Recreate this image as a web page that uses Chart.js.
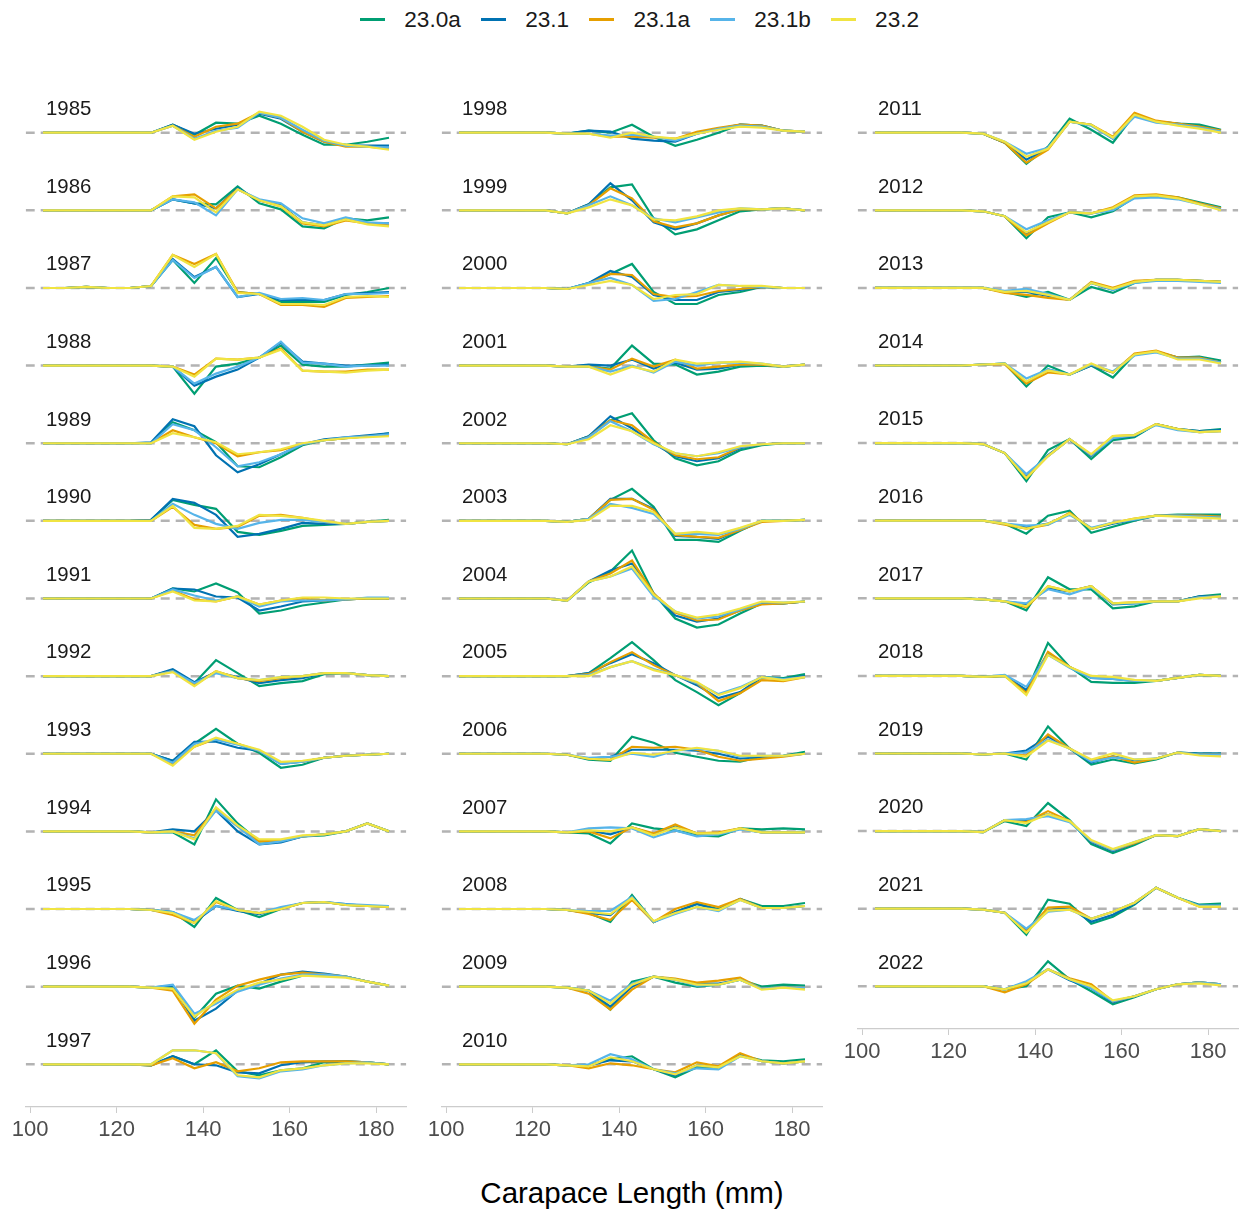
<!DOCTYPE html>
<html>
<head>
<meta charset="utf-8">
<script src="https://cdn.jsdelivr.net/npm/chart.js@4.4.0/dist/chart.umd.min.js"></script>
<style>
  body { margin: 0; width: 1241px; height: 1213px; position: relative; overflow: hidden; background: #fff;
         font-family: "Liberation Sans", Arial, Helvetica, sans-serif; }
  canvas { position: absolute; }
  #legend { position: absolute; left: 360px; top: 8.5px; height: 22.6px; display: flex; align-items: center;
            font-size: 22.6px; line-height: 22.6px; color: #1a1a1a; white-space: nowrap; }
  #legend .key { display: inline-block; width: 25px; height: 2.8px; margin-right: 19.3px; }
  #legend .lab { margin-right: 20px; }
  #xtitle { position: absolute; left: 332px; width: 600px; top: 1178px; text-align: center;
            font-size: 29.5px; line-height: 29.5px; color: #000; }
</style>
</head>
<body>
<div id="legend"></div>
<canvas id="col1" width="420" height="1087" style="left:0px;top:60px"></canvas>
<canvas id="col2" width="420" height="1087" style="left:416px;top:60px"></canvas>
<canvas id="col3" width="409" height="1009" style="left:832px;top:60px"></canvas>
<div id="xtitle">Carapace Length (mm)</div>
<script>
// panel years, in facet order (three columns)
const years = [1985,1986,1987,1988,1989,1990,1991,1992,1993,1994,1995,1996,1997,
               1998,1999,2000,2001,2002,2003,2004,2005,2006,2007,2008,2009,2010,
               2011,2012,2013,2014,2015,2016,2017,2018,2019,2020,2021,2022];

// carapace length bins (mm)
const lengths = [103,108,113,118,123,128,133,138,143,148,153,158,163,168,173,178,183];
const xTicks = [100,120,140,160,180];

const seriesNames = ['23.0a','23.1','23.1a','23.1b','23.2'];
const seriesColors = ['#009E73','#0072B2','#E69F00','#56B4E9','#F0E442'];

// residuals per year (one row per year, same order as years)
const s230a = [
  [0,0,0,0,0,0,8,-2,10,9,17,9,-2,-12,-12,-9,-5],
  [0,0,0,0,0,0,11,7,6,24,7,1,-16,-18,-8,-10,-7],
  [0,0,1,0,0,2,28,5,30,-4,-6,-14,-14,-14,-7,-4,0],
  [0,0,0,0,0,0,-1,-28,-1,2,8,20,1,-1,-1,1,3],
  [0,0,0,0,0,0,21,13,1,-23,-24,-14,-2,3,5,7,10],
  [0,0,0,0,0,1,21,16,12,-11,-14,-10,-5,-4,-3,-1,1],
  [0,0,0,0,0,0,10,7,15,6,-15,-12,-7,-4,-1,0,0],
  [0,0,0,0,0,0,6,-7,16,3,-10,-7,-5,2,3,1,0],
  [0,0,0,0,0,0,-7,10,25,10,1,-14,-11,-4,-2,-1,0],
  [0,0,0,0,0,-1,-1,-13,32,8,-10,-10,-5,-4,0,8,0],
  [0,0,0,0,0,-1,-3,-18,11,-1,-8,0,6,7,4,3,2],
  [0,0,0,0,0,-1,-1,-31,-7,1,-2,5,11,12,10,5,1],
  [0,0,0,0,0,-1,8,0,14,-7,-11,-6,-4,2,3,2,0],
  [0,0,0,0,0,-1,2,0,8,-4,-13,-7,0,8,7,2,1],
  [0,0,0,0,0,-3,6,23,26,-8,-24,-19,-10,-1,1,2,0],
  [0,0,0,0,0,-1,5,14,24,-4,-16,-16,-7,-4,1,0,0],
  [0,0,0,0,0,-1,-1,-3,20,2,1,-9,-6,-1,0,-1,1],
  [0,0,0,0,0,-1,7,23,30,3,-15,-22,-18,-7,-2,0,0],
  [0,0,0,0,0,-1,2,21,32,14,-19,-19,-21,-10,0,0,1],
  [0,0,0,0,0,-2,16,27,48,5,-20,-29,-26,-15,-5,-5,-3],
  [0,0,0,0,0,0,3,18,34,16,-4,-16,-29,-17,-1,-2,2],
  [0,0,0,0,0,-1,-6,-7,17,11,1,-3,-7,-8,-3,-2,2],
  [0,0,0,0,0,-1,-2,-12,8,3,1,-4,-5,3,2,3,2],
  [0,0,0,0,0,-1,-4,-13,14,-13,-3,5,0,10,3,3,6],
  [0,0,0,0,0,-1,-4,-23,5,10,4,0,2,7,0,2,1],
  [0,0,0,0,0,-1,-1,5,8,-5,-13,-3,-4,9,4,3,5],
  [0,0,0,0,0,-1,-10,-31,-14,14,3,-10,18,11,9,8,3],
  [0,0,0,0,0,-1,-6,-28,-7,-2,-7,-1,13,15,13,8,3],
  [0,0,0,0,0,0,-4,-9,-4,-12,1,-5,5,8,8,7,6],
  [0,0,0,0,0,1,2,-21,0,-9,0,-12,11,14,8,9,5],
  [0,0,0,0,0,-1,-10,-38,-7,4,-16,3,6,19,14,12,14],
  [0,0,0,0,0,0,-3,-13,5,10,-12,-6,0,5,6,6,6],
  [0,0,0,0,0,-1,-3,-12,21,9,9,-10,-8,-3,-3,2,4],
  [0,0,0,0,0,-1,0,-16,33,9,-6,-7,-7,-5,-2,1,0],
  [0,0,0,0,0,-1,0,-6,27,5,-11,-6,-10,-6,1,0,0],
  [0,0,0,0,0,-1,10,5,28,11,-13,-22,-14,-4,-5,2,0],
  [0,0,0,0,0,-1,-4,-26,9,5,-15,-8,4,21,11,4,5],
  [0,0,0,0,0,0,-3,0,25,7,-5,-18,-11,-3,2,4,2]
];
const s231 = [
  [0,0,0,0,0,0,8,-1,4,8,19,14,1,-9,-13,-13,-13],
  [0,0,0,0,0,0,11,7,2,22,10,5,-12,-15,-8,-13,-13],
  [0,0,1,0,0,2,29,11,21,-9,-6,-12,-12,-12,-6,-5,-4],
  [0,0,0,0,0,0,-1,-20,-11,-4,8,23,4,2,0,0,1],
  [0,0,0,0,0,1,24,17,-12,-29,-21,-11,-1,4,6,8,10],
  [0,0,0,0,0,1,22,18,6,-16,-13,-8,-2,-3,-3,-1,0],
  [0,0,0,0,0,0,10,9,2,1,-12,-8,-3,-2,-1,0,0],
  [0,0,0,0,0,0,7,-6,4,-1,-7,-4,-2,3,3,1,0],
  [0,0,0,0,0,0,-7,12,12,6,3,-10,-8,-4,-2,-1,0],
  [0,0,0,0,0,-1,2,0,21,0,-13,-11,-5,-3,0,8,0],
  [0,0,0,0,0,-1,-3,-13,3,-2,-5,1,6,7,5,3,3],
  [0,0,0,0,0,-1,1,-34,-22,-4,3,12,15,13,10,5,1],
  [0,0,0,0,0,-1,8,0,-1,-8,-9,-1,2,3,3,2,0],
  [0,0,0,0,0,-1,2,1,-6,-8,-9,-1,4,8,7,2,1],
  [0,0,0,0,0,-3,6,27,10,-12,-19,-13,-5,1,1,2,0],
  [0,0,0,0,0,-1,5,17,11,-7,-12,-12,-4,-2,1,0,0],
  [0,0,0,0,0,-1,1,0,6,-3,3,-4,-3,1,1,-1,1],
  [0,0,0,0,0,-1,7,27,15,0,-13,-18,-15,-5,-1,0,0],
  [0,0,0,0,0,-1,2,22,22,12,-15,-16,-18,-9,0,0,1],
  [0,0,0,0,0,-2,17,28,35,5,-17,-23,-20,-12,-5,-5,-3],
  [0,0,0,0,0,0,3,13,22,13,1,-9,-22,-16,-1,-3,0],
  [0,0,0,0,0,-1,-5,-3,4,4,4,3,0,-5,-3,-2,0],
  [0,0,0,0,0,-1,1,-3,4,-3,5,-2,-2,3,-1,-1,-1],
  [0,0,0,0,0,-1,-4,-6,12,-13,-3,5,-1,10,1,1,3],
  [0,0,0,0,0,-1,-4,-20,0,10,7,3,3,7,-2,-1,-1],
  [0,0,0,0,0,-1,-1,4,3,-5,-11,-1,-3,9,3,1,3],
  [0,0,0,0,0,-1,-10,-27,-15,11,8,-6,17,11,9,6,2],
  [0,0,0,0,0,-1,-6,-23,-11,-2,-3,1,14,15,12,7,2],
  [0,0,0,0,0,0,-4,-4,-8,-12,5,-2,6,8,8,7,6],
  [0,0,0,0,0,1,2,-17,-4,-9,0,-7,11,14,8,8,3],
  [0,0,0,0,0,-1,-10,-34,-12,4,-13,5,7,19,14,12,13],
  [0,0,0,0,0,0,-3,-7,-3,7,-8,-3,1,5,5,5,4],
  [0,0,0,0,0,-1,-3,-6,10,7,12,-6,-5,-3,-3,2,2],
  [0,0,0,0,0,-1,0,-14,23,9,-2,-3,-5,-5,-2,1,0],
  [0,0,0,0,0,-1,0,3,17,5,-9,-3,-7,-5,1,0,0],
  [0,0,0,0,0,-1,11,11,17,10,-11,-20,-12,-4,-5,2,0],
  [0,0,0,0,0,-1,-4,-22,-1,1,-13,-6,5,21,11,3,3],
  [0,0,0,0,0,0,-3,4,17,6,-2,-16,-10,-3,2,4,2]
];
const s231a = [
  [0,0,0,0,0,0,7,-4,6,9,20,15,1,-9,-14,-14,-16],
  [0,0,0,0,0,0,14,16,2,21,10,4,-13,-16,-10,-13,-15],
  [0,0,1,0,0,2,33,24,34,-4,-6,-17,-17,-19,-10,-9,-8],
  [0,0,0,0,0,0,-1,-9,7,6,8,17,-5,-6,-6,-4,-4],
  [0,0,0,0,0,0,13,6,0,-13,-9,-7,-1,3,5,7,8],
  [0,0,0,0,0,0,14,-4,-8,-6,5,6,3,-1,-3,-1,0],
  [0,0,0,0,0,0,8,-1,-3,2,-6,-2,0,-2,-1,0,0],
  [0,0,0,0,0,0,5,-9,5,-2,-5,-2,0,3,3,1,0],
  [0,0,0,0,0,0,-10,7,15,10,3,-9,-8,-4,-2,-1,0],
  [0,0,0,0,0,-1,0,-4,23,5,-10,-9,-5,-3,0,8,0],
  [0,0,0,0,0,-1,-6,-14,7,-1,-4,0,6,7,4,3,2],
  [0,0,0,0,0,-1,-4,-37,-13,1,7,12,14,12,10,5,1],
  [0,0,0,0,0,-1,6,-4,2,-7,-4,2,3,3,3,2,0],
  [0,0,0,0,0,-1,-1,-4,-4,-5,-6,1,5,8,7,2,1],
  [0,0,0,0,0,-3,5,22,12,-11,-17,-13,-5,1,1,2,0],
  [0,0,0,0,0,-1,4,14,13,-6,-9,-8,-3,-1,1,0,0],
  [0,0,0,0,0,-1,-1,-4,7,-1,6,-3,-1,1,1,-1,1],
  [0,0,0,0,0,-1,6,23,18,1,-12,-16,-14,-4,-1,0,0],
  [0,0,0,0,0,-1,2,21,22,11,-14,-16,-17,-9,-1,0,1],
  [0,0,0,0,0,-2,17,25,38,5,-14,-22,-21,-12,-6,-5,-3],
  [0,0,0,0,0,0,2,14,24,11,1,-7,-25,-17,-4,-5,-1],
  [0,0,0,0,0,-1,-5,-6,7,6,7,4,-3,-7,-5,-3,0],
  [0,0,0,0,0,-1,0,-7,4,-2,7,-2,-1,3,-1,-1,-1],
  [0,0,0,0,0,-1,-5,-11,9,-13,0,7,2,10,1,1,3],
  [0,0,0,0,0,-1,-7,-23,-3,10,8,4,6,9,-2,-1,-1],
  [0,0,0,0,0,-1,-4,1,-1,-5,-8,2,-2,11,3,1,3],
  [0,0,0,0,0,-1,-10,-30,-17,11,8,-4,20,12,9,6,2],
  [0,0,0,0,0,-1,-6,-25,-13,-2,-3,3,15,16,13,7,2],
  [0,0,0,0,0,0,-5,-7,-10,-12,6,0,7,8,8,7,6],
  [0,0,0,0,0,1,1,-18,-7,-9,1,-7,12,15,8,8,3],
  [0,0,0,0,0,-1,-10,-35,-13,4,-12,7,8,19,14,11,12],
  [0,0,0,0,0,0,-4,-8,-4,8,-8,-2,2,5,5,5,4],
  [0,0,0,0,0,-1,-3,-9,12,7,12,-5,-4,-3,-3,1,2],
  [0,0,0,0,0,-1,0,-17,24,9,-1,-2,-5,-5,-2,1,0],
  [0,0,0,0,0,-1,0,-2,19,5,-7,-3,-9,-5,1,-1,-1],
  [0,0,0,0,0,-1,11,9,20,10,-10,-19,-12,-4,-5,2,0],
  [0,0,0,0,0,-1,-4,-23,1,2,-10,-3,6,21,11,2,2],
  [0,0,0,0,0,0,-6,2,17,8,2,-15,-10,-3,2,4,2]
];
const s231b = [
  [0,0,0,0,0,0,7,-6,2,5,20,15,3,-8,-13,-14,-15],
  [0,0,0,0,0,0,11,8,-5,21,11,7,-8,-13,-7,-12,-13],
  [0,0,1,0,0,2,28,10,21,-9,-5,-11,-10,-12,-6,-6,-5],
  [0,0,0,0,0,0,-1,-18,-8,-1,8,24,3,2,-1,0,0],
  [0,0,0,0,0,0,19,13,-4,-23,-19,-11,-1,3,6,7,9],
  [0,0,0,0,0,0,17,6,-3,-8,-2,1,1,-1,-3,-1,0],
  [0,0,0,0,0,0,9,3,-2,2,-8,-3,-2,-2,-1,1,1],
  [0,0,0,0,0,0,5,-7,3,-2,-4,-1,0,3,3,1,0],
  [0,0,0,0,0,0,-9,10,14,9,3,-10,-8,-4,-2,-1,0],
  [0,0,0,0,0,-1,0,-7,21,5,-13,-10,-5,-3,0,8,0],
  [0,0,0,0,0,-1,-3,-11,3,-1,-4,2,6,7,5,4,3],
  [0,0,0,0,0,-1,2,-27,-17,-5,2,8,12,12,10,5,1],
  [0,0,0,0,0,0,14,14,11,-12,-14,-7,-5,-1,1,2,0],
  [0,0,0,0,0,-1,-1,-3,-2,-4,-8,-1,4,7,6,2,1],
  [0,0,0,0,0,-3,5,14,5,-8,-12,-7,-2,2,1,2,0],
  [0,0,0,0,0,-1,5,10,3,-13,-11,-4,3,2,1,0,0],
  [0,0,0,0,0,-1,-1,-6,0,-7,4,0,3,3,2,-1,1],
  [0,0,0,0,0,-1,6,22,12,-1,-10,-13,-10,-4,-1,0,0],
  [0,0,0,0,0,-1,2,17,13,7,-13,-13,-14,-8,0,0,1],
  [0,0,0,0,0,-2,17,22,30,2,-13,-20,-18,-11,-4,-4,-3],
  [0,0,0,0,0,0,1,9,15,7,1,-7,-18,-11,-1,-3,-1],
  [0,0,0,0,0,-1,-4,-3,0,-3,3,5,3,-3,-2,-2,0],
  [0,0,0,0,0,-1,3,4,3,-6,1,-5,-3,2,-1,-1,-1],
  [0,0,0,0,0,-1,-2,-2,12,-13,-5,2,-2,9,1,1,3],
  [0,0,0,0,0,-1,-4,-14,3,10,7,1,2,7,-2,-1,-1],
  [0,0,0,0,0,-1,0,10,5,-5,-9,-4,-5,8,3,1,3],
  [0,0,0,0,0,-1,-9,-21,-15,11,7,-6,16,10,8,5,1],
  [0,0,0,0,0,-1,-6,-19,-10,-2,-3,0,12,13,11,6,1],
  [0,0,0,0,0,0,-3,-1,-6,-12,5,-2,5,7,7,6,5],
  [0,0,0,0,0,1,2,-13,-4,-9,1,-6,10,13,7,7,3],
  [0,0,0,0,0,-1,-10,-31,-13,4,-12,5,8,18,13,11,12],
  [0,0,0,0,0,0,-3,-5,-4,6,-7,-2,1,5,5,4,3],
  [0,0,0,0,0,-1,-3,-5,9,4,11,-5,-5,-3,-3,1,2],
  [0,0,0,0,0,-1,1,-11,21,8,-2,-3,-5,-5,-2,1,0],
  [0,0,0,0,0,-1,0,1,14,5,-8,-4,-6,-5,1,-1,-1],
  [0,0,0,0,0,-1,11,12,15,9,-10,-19,-11,-4,-5,2,0],
  [0,0,0,0,0,-1,-4,-20,-3,-1,-10,-3,6,21,11,3,3],
  [0,0,0,0,0,0,-3,5,17,7,-2,-15,-10,-3,2,4,2]
];
const s232 = [
  [0,0,0,0,0,0,7,-7,1,6,21,17,6,-7,-12,-14,-17],
  [0,0,0,0,0,0,14,13,-2,21,10,4,-12,-15,-9,-14,-16],
  [0,0,1,0,0,2,33,21,34,-5,-6,-16,-16,-17,-9,-8,-9],
  [0,0,0,0,0,0,-1,-11,7,6,8,16,-5,-6,-7,-5,-4],
  [0,0,0,0,0,0,10,6,1,-11,-9,-6,0,3,5,6,7],
  [0,0,0,0,0,0,15,-7,-8,-5,6,5,3,0,-3,-1,0],
  [0,0,0,0,0,0,7,-2,-3,2,-6,-2,1,1,0,0,0],
  [0,0,0,0,0,0,4,-10,5,-2,-4,-1,0,3,3,1,0],
  [0,0,0,0,0,0,-12,7,16,10,4,-8,-7,-4,-2,-1,0],
  [0,0,0,0,0,-1,0,-8,24,6,-8,-8,-4,-3,0,8,0],
  [0,0,0,0,0,-1,-4,-14,8,-1,-4,0,6,7,4,3,2],
  [0,0,0,0,0,-1,-2,-30,-15,-3,4,7,11,10,9,5,1],
  [0,0,0,0,0,0,14,14,11,-11,-13,-6,-4,-1,1,1,0],
  [0,0,0,0,0,-1,-1,-5,0,-4,-6,-1,3,6,5,2,1],
  [0,0,0,0,0,-3,3,11,5,-9,-10,-6,0,2,1,2,0],
  [0,0,0,0,0,-1,3,7,3,-11,-7,-6,3,2,2,0,0],
  [0,0,0,0,0,-1,-1,-9,-1,-6,6,2,3,4,2,-1,1],
  [0,0,0,0,0,-1,4,18,12,0,-10,-13,-9,-3,-1,0,0],
  [0,0,0,0,0,-1,1,15,15,9,-13,-11,-13,-7,0,0,1],
  [0,0,0,0,0,-2,17,22,32,4,-13,-19,-16,-10,-3,-4,-3],
  [0,0,0,0,0,0,0,9,15,6,1,-6,-19,-12,-1,-4,-1],
  [0,0,0,0,0,-1,-5,-6,1,-1,3,6,3,-2,-2,-2,0],
  [0,0,0,0,0,-1,1,0,4,-4,4,-2,-2,3,-1,-1,-1],
  [0,0,0,0,0,-1,-3,-5,11,-12,-4,2,-1,9,1,1,3],
  [0,0,0,0,0,-1,-4,-17,2,10,7,2,2,7,-3,-1,-3],
  [0,0,0,0,0,-1,-2,7,3,-5,-10,-1,-3,8,3,1,3],
  [0,0,0,0,0,-1,-9,-24,-16,11,8,-5,18,11,7,4,0],
  [0,0,0,0,0,-1,-6,-22,-12,-2,-3,2,14,15,12,6,0],
  [0,0,0,0,0,0,-4,-3,-7,-12,5,-1,6,8,8,7,6],
  [0,0,0,0,0,1,2,-16,-5,-9,2,-7,11,14,6,6,2],
  [0,0,0,0,0,-1,-10,-35,-13,4,-11,7,8,19,14,11,12],
  [0,0,0,0,0,0,-3,-8,-3,7,-8,-2,2,5,4,3,2],
  [0,0,0,0,0,-1,-3,-8,12,7,12,-5,-4,-3,-3,0,2],
  [0,0,0,0,0,-1,0,-19,21,9,0,-1,-4,-5,-2,1,0],
  [0,0,0,0,0,-1,0,-3,13,5,-6,0,-6,-5,1,-2,-3],
  [0,0,0,0,0,-1,11,8,17,10,-9,-18,-11,-4,-5,2,0],
  [0,0,0,0,0,-1,-4,-24,-2,-1,-10,-3,6,21,11,2,2],
  [0,0,0,0,0,0,-3,3,17,7,0,-14,-10,-3,2,3,1]
];
const allSeries = [s230a, s231, s231a, s231b, s232];

const FONT = '"Liberation Sans", Arial, Helvetica, sans-serif';

// legend (html)
const legendEl = document.getElementById('legend');
seriesNames.forEach(function (name, i) {
  const key = document.createElement('span');
  key.className = 'key';
  key.style.background = seriesColors[i];
  const lab = document.createElement('span');
  lab.className = 'lab';
  lab.textContent = name;
  legendEl.appendChild(key);
  legendEl.appendChild(lab);
});

// draws the year above each panel
const yearLabels = {
  id: 'yearLabels',
  afterDatasetsDraw(chart, args, opts) {
    const ctx = chart.ctx;
    ctx.save();
    ctx.font = '20.4px ' + FONT;
    ctx.fillStyle = '#1a1a1a';
    ctx.textAlign = 'left';
    ctx.textBaseline = 'alphabetic';
    opts.years.forEach(function (yr, k) {
      const y0 = chart.scales['p' + k].getPixelForValue(0);
      ctx.fillText(String(yr), chart.chartArea.left + 20.3, y0 - 17.7);
    });
    ctx.restore();
  }
};

function buildColumn(canvasId, first, last, padLeft, padRight) {
  const colYears = years.slice(first, last);
  const scales = {
    x: {
      type: 'linear',
      position: 'bottom',
      min: 99,
      max: 187,
      afterFit: function (s) { s.height = 40; },
      afterBuildTicks: function (s) { s.ticks = xTicks.map(v => ({ value: v })); },
      grid: { drawOnChartArea: false, drawTicks: true, tickLength: 6, color: '#cccccc', lineWidth: 1 },
      border: { display: true, color: '#cccccc', width: 1.3 },
      ticks: { font: { size: 22, family: FONT }, color: '#4d4d4d', padding: 4, maxRotation: 0, autoSkip: false }
    }
  };
  const datasets = [];
  colYears.forEach(function (yr, k) {
    const row = first + k;
    const id = 'p' + k;
    // one stacked y axis per panel
    scales[id] = {
      type: 'linear',
      position: 'right',
      stack: 'panels',
      stackWeight: 1,
      min: -42.7,
      max: 34.9,
      display: false
    };
    // dashed zero line
    datasets.push({
      data: [{ x: 99, y: 0 }, { x: 187, y: 0 }],
      yAxisID: id,
      borderColor: '#b3b3b3',
      borderWidth: 2.5,
      borderDash: [9, 6],
      pointRadius: 0,
      order: 10
    });
    allSeries.forEach(function (series, si) {
      datasets.push({
        label: seriesNames[si],
        data: lengths.map((x, i) => ({ x: x, y: series[row][i] })),
        yAxisID: id,
        borderColor: seriesColors[si],
        borderWidth: 2.2,
        pointRadius: 0,
        tension: 0,
        clip: false,
        order: 5 - si
      });
    });
  });

  return new Chart(document.getElementById(canvasId), {
    type: 'line',
    data: { datasets: datasets },
    options: {
      responsive: false,
      animation: false,
      events: [],
      layout: { padding: { left: padLeft, right: padRight, top: 37.8, bottom: 0 } },
      scales: scales,
      plugins: {
        legend: { display: false },
        tooltip: { enabled: false },
        yearLabels: { years: colYears }
      }
    },
    plugins: [yearLabels]
  });
}

buildColumn('col1', 0, 13, 25.7, 13.7);
buildColumn('col2', 13, 26, 25.7, 13.7);
buildColumn('col3', 26, 38, 25.7, 2.7);
</script>
</body>
</html>
